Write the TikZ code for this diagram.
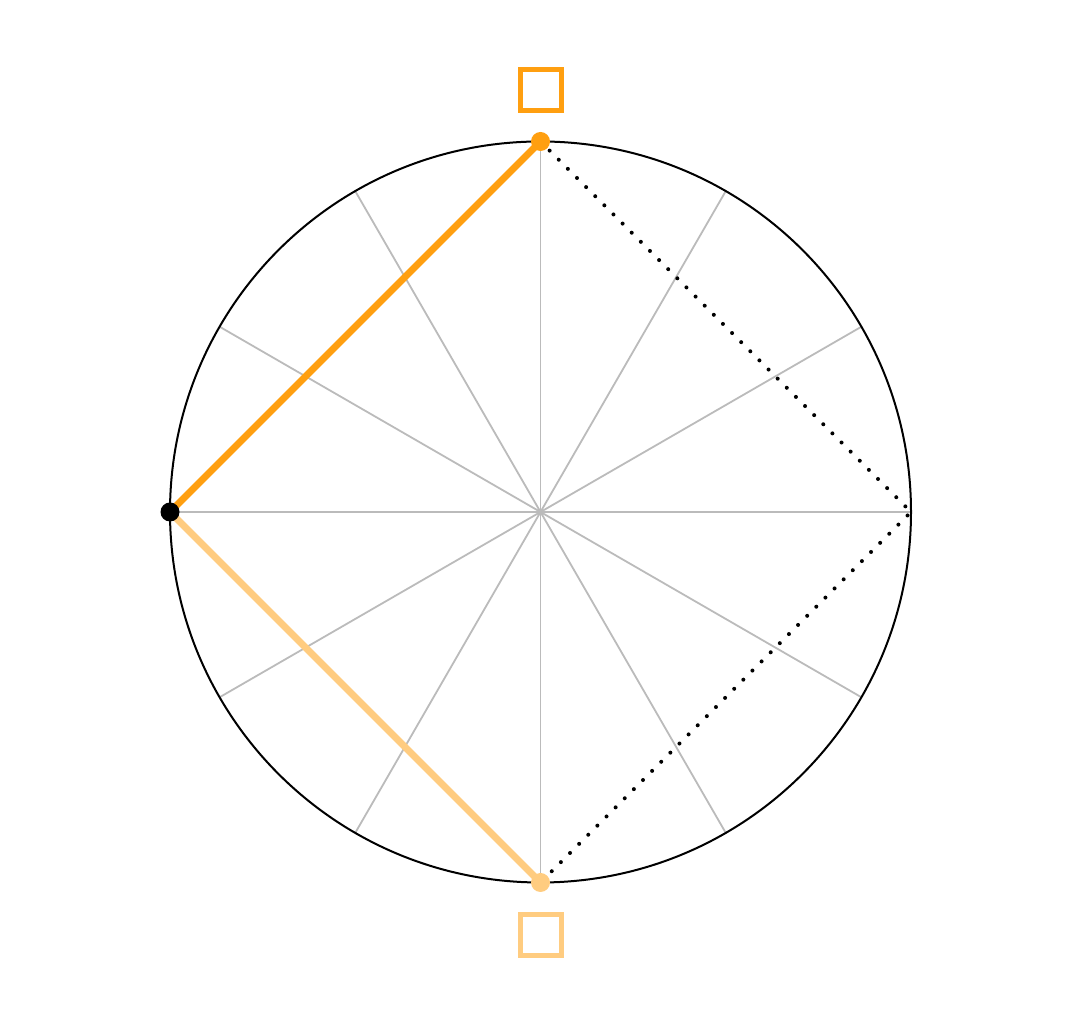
\documentclass[tikz,border=0pt]{standalone}
\usetikzlibrary{positioning,calc}
\definecolor{hiorange}{HTML}{FF9F10}
\definecolor{loorange}{HTML}{FFCC80}
\definecolor{spokegray}{HTML}{BBBBBB}
\tikzset{
  spoke/.style={draw=spokegray, line width=1.8pt},
  rim/.style={draw=black, line width=2pt},
  chord/.style={line width=7pt},
  dotline/.style={line width=4pt, line cap=round, dash pattern=on 0pt off 12.9pt},
  vertex/.style={circle, inner sep=0pt, minimum size=19pt},
  marker/.style={draw, line width=5pt, minimum size=41pt, inner sep=0pt}
}
\begin{document}
\begin{tikzpicture}[x=1pt, y=1pt]

  \newcommand\R{370.5};

  \useasboundingbox (0,0) rectangle (1081,1024); %% positioning

  \coordinate (O) at (540.5,512);
  \coordinate (N) at ($(O)+(90:\R)$);
  \coordinate (W) at ($(O)+(180:\R)$);
  \coordinate (S) at ($(O)+(270:\R)$);
  \coordinate (E) at ($(O)+(0:\R)$);

  \foreach \a in {0,30,...,150}
    \draw[spoke] ($(O)+(\a:\R)$) -- ($(O)+(\a+180:\R)$);
  \draw[rim] (O) circle (\R);

  \draw[dotline] (N) -- (E) -- (S);
  \draw[chord, draw=loorange] (W) -- (S);
  \draw[chord, draw=hiorange] (W) -- (N);

  \node[vertex, fill=hiorange] (n) at (N) {};
  \node[vertex, fill=black] (w) at (W) {};
  \node[vertex, fill=loorange] (s) at (S) {};

  \node[marker, draw=hiorange, above=51.5pt of n.center, anchor=center] (top) {};
  \node[marker, draw=loorange, below=52.5pt of s.center, anchor=center] (bottom) {};

\end{tikzpicture}
\end{document}
